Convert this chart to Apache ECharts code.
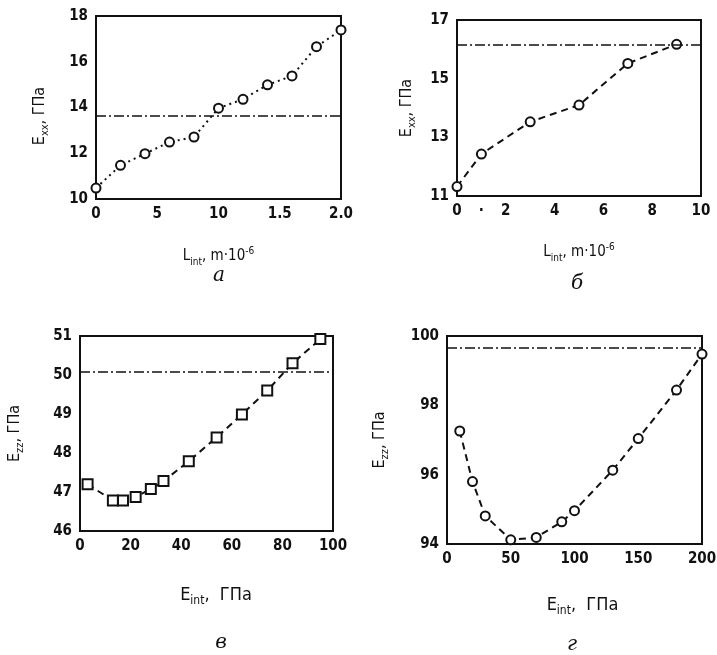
<!DOCTYPE html>
<html>
<head>
<meta charset="utf-8">
<script src="https://cdn.jsdelivr.net/npm/echarts@6/dist/echarts.min.js"></script>
<style>
  html, body { margin: 0; padding: 0; background: #fff; }
  #chart { width: 717px; height: 655px; }
</style>
</head>
<body>
<div id="chart"></div>
<script>
// panel а: E_xx vs L_int (dotted)
const aX = [0, 0.2, 0.4, 0.6, 0.8, 1.0, 1.2, 1.4, 1.6, 1.8, 2.0];
const aY = [10.48, 11.47, 11.98, 12.49, 12.71, 13.97, 14.36, 14.99, 15.38, 16.66, 17.39];
const aRef = 13.65;
const aXTicks = ['0', '5', '10', '1.5', '2.0'];

// panel б: E_xx vs L_int (dashed)
const bX = [0, 1, 3, 5, 7, 9];
const bY = [11.32, 12.43, 13.53, 14.10, 15.52, 16.17];
const bRef = 16.17;

// panel в: E_zz vs E_int (squares)
const vX = [3, 13, 17, 22, 28, 33, 43, 54, 64, 74, 84, 95];
const vY = [47.20, 46.78, 46.78, 46.87, 47.08, 47.28, 47.79, 48.40, 48.99, 49.60, 50.30, 50.92];
const vRef = 50.08;

// panel г: E_zz vs E_int
const gX = [10, 20, 30, 50, 70, 90, 100, 130, 150, 180, 200];
const gY = [97.26, 95.80, 94.81, 94.12, 94.19, 94.64, 94.96, 96.13, 97.04, 98.44, 99.48];
const gRef = 99.66;

const FONT = "'Liberation Sans Narrow', 'DejaVu Sans Condensed', sans-serif";
const dashDot = [10, 3, 2, 3];

// rich styles for names with subscripts / superscripts
function rich(size) {
    return {
        m: { fontSize: size, fontFamily: FONT, color: '#111', lineHeight: size + 6 },
        s: { fontSize: Math.round(size * 0.68), fontFamily: FONT, color: '#111', lineHeight: 10, verticalAlign: 'bottom' },
        p: { fontSize: Math.round(size * 0.68), fontFamily: FONT, color: '#111', lineHeight: 10, verticalAlign: 'top' }
    };
}

function pairs(xs, ys) {
    return xs.map((x, i) => [x, ys[i]]);
}

const grids = [
    { left: 96, top: 16, width: 245, height: 183 },
    { left: 457, top: 20, width: 244, height: 176 },
    { left: 80, top: 336, width: 253, height: 195 },
    { left: 447, top: 336, width: 255, height: 208 }
].map(g => Object.assign({
    show: true, borderColor: '#111', borderWidth: 2, backgroundColor: 'transparent',
    containLabel: false, outerBoundsMode: 'none'
}, g));

const tickLabel = { color: '#111', fontSize: 15, fontWeight: 'bold', fontFamily: FONT, margin: 8 };

function axis(idx, min, max, interval, name, gap, formatter, nameStyle, rotate) {
    return {
        type: 'value', gridIndex: idx, min: min, max: max, interval: interval,
        axisLine: { show: false }, axisTick: { show: false }, splitLine: { show: false },
        axisLabel: Object.assign({ formatter: formatter }, tickLabel),
        name: name, nameLocation: 'middle', nameGap: gap, nameRotate: rotate,
        nameTextStyle: nameStyle
    };
}

function curve(idx, xs, ys, ref, lineType, symbol) {
    return [{
        type: 'line', xAxisIndex: idx, yAxisIndex: idx,
        data: pairs(xs, ys), clip: false, silent: true,
        symbol: symbol, symbolSize: symbol === 'emptyRect' ? 10 : 9,
        itemStyle: { color: '#111', borderColor: '#111', borderWidth: 1.6 },
        lineStyle: { color: '#111', width: 2, type: lineType },
        markLine: {
            silent: true, symbol: 'none', label: { show: false },
            lineStyle: { color: '#111', width: 1.6, type: dashDot },
            data: [{ yAxis: ref }]
        }
    }, {
        type: 'scatter', xAxisIndex: idx, yAxisIndex: idx,
        data: pairs(xs, ys), clip: false, silent: true,
        symbol: 'circle', symbolSize: 2.5, itemStyle: { color: '#111' }
    }];
}

const lName = '{m|L}{s|int}{m|, m·10}{p|-6}';
const eName = '{m|E}{s|int}{m|,  ГПа}';

const option = {
    backgroundColor: '#fff',
    animation: false,
    grid: grids,
    xAxis: [
        axis(0, 0, 2, 0.5, lName, 47, v => aXTicks[Math.round(v / 0.5)], { rich: rich(15) }),
        axis(1, 0, 10, 1, lName, 46, v => v === 1 ? '·' : (v % 2 === 0 ? v : ''), { rich: rich(15) }),
        axis(2, 0, 100, 20, eName, 52, null, { rich: rich(18), padding: [0, 0, 0, 19] }),
        axis(3, 0, 200, 50, eName, 49, null, { rich: rich(18), padding: [0, 0, 0, 16] })
    ],
    yAxis: [
        axis(0, 10, 18, 2, '{m|E}{s|xx}{m|, ГПа}', 45, null, { rich: rich(16), padding: [0, 17, 0, 0] }, 90),
        axis(1, 11, 17, 1, '{m|E}{s|xx}{m|, ГПа}', 39, v => (v % 2 === 1 ? v : ''), { rich: rich(16) }, 90),
        axis(2, 46, 51, 1, '{m|E}{s|zz}{m|, ГПа}', 54, null, { rich: rich(16) }, 90),
        axis(3, 94, 100, 2, '{m|E}{s|zz}{m|, ГПа}', 56, null, { rich: rich(16) }, 90)
    ],
    series: [].concat(
        curve(0, aX, aY, aRef, [2, 4], 'emptyCircle'),
        curve(1, bX, bY, bRef, [7, 5], 'emptyCircle'),
        curve(2, vX, vY, vRef, [7, 5], 'emptyRect'),
        curve(3, gX, gY, gRef, [7, 5], 'emptyCircle')
    ),
    graphic: [
        ['а', 219, 276], ['б', 577, 284], ['в', 221, 643], ['г', 572, 645]
    ].map(t => ({
        type: 'text', x: t[1], y: t[2],
        style: {
            text: t[0], fill: '#111', fontSize: 20, fontStyle: 'italic',
            fontFamily: "'DejaVu Serif', serif", align: 'center', verticalAlign: 'middle'
        }
    }))
};

const chart = echarts.init(document.getElementById('chart'), null, { renderer: 'canvas' });
chart.setOption(option);
</script>
</body>
</html>
